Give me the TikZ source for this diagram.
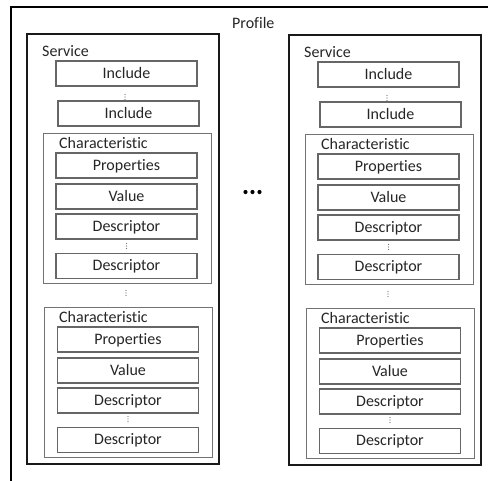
\documentclass[tikz,border=0pt]{standalone}
\usepackage{fontspec}
\setmainfont{Carlito}[Ligatures={NoCommon,NoContextual}, RawFeature={-liga;-clig;-calt}]
\begin{document}
\begin{tikzpicture}[x=1pt,y=-1pt,
  font=\fontsize{16}{19}\selectfont,
  every node/.style={text=black!85},
  profile/.style={draw=black, line width=1.8pt},
  service/.style={draw=black!90, line width=2.2pt},
  charbox/.style={draw=black!55, line width=1pt},
  field/.style={draw=black!60, line width=1.3pt, rectangle, inner sep=0pt,
    minimum width=141pt, minimum height=25pt, text height=11pt, text depth=2pt},
  caption/.style={anchor=base west, inner sep=0pt}]
\clip (0,0) rectangle (488,480);
\fill[white] (0,0) rectangle (488,480);

% outer profile frame (runs past the right and bottom edges)
\draw[profile] (11,500) -- (11,7) -- (500,7);
\node[caption] (profile) at (232,28) {Profile};

% ellipsis between the two services
\foreach \px in {245.5,252.5,259.5}
  \fill[black] (\px,192) circle (2.1pt);

\foreach \c/\dx/\dy in {L/0/0, R/262/1} {
  \begin{scope}[shift={(\dx,\dy)}]
    % service
    \draw[service] (27,34) rectangle (219,464);
    \node[caption] (\c-service) at (42,56) {Service};
    \node[field] (\c-inc1) at (126.5,73.5) {Include};
    \node[field] (\c-inc2) at (128.5,113.5) {Include};
    \foreach \yy in {94.5,97,99.5} \fill[black!55] (125,\yy) circle (0.7pt);

    % first characteristic
    \draw[charbox] (43,133) rectangle (211,283);
    \node[caption] (\c-char1) at (59,148) {Characteristic};
    \node[field] (\c-prop1) at (126.5,165.5) {Properties};
    \node[field] (\c-val1)  at (126.5,196.5) {Value};
    \node[field] (\c-desc1) at (126.5,226.5) {Descriptor};
    \foreach \yy in {243.5,246,248.5} \fill[black!55] (126.5,\yy) circle (0.7pt);
    \node[field] (\c-desc1b) at (126.5,266) {Descriptor};

    % ellipsis between characteristics
    \foreach \yy in {290.5,293,295.5} \fill[black!55] (126,\yy) circle (0.7pt);

    % second characteristic
    \draw[charbox] (44,307) rectangle (212,457);
    \node[caption] (\c-char2) at (59,322) {Characteristic};
    \node[field] (\c-prop2) at (128,339.5) {Properties};
    \node[field] (\c-val2)  at (128,370.5) {Value};
    \node[field] (\c-desc2) at (128,400.5) {Descriptor};
    \foreach \yy in {416.5,419,421.5} \fill[black!55] (128,\yy) circle (0.7pt);
    \node[field] (\c-desc2b) at (128,440) {Descriptor};
  \end{scope}
}
\end{tikzpicture}
\end{document}
